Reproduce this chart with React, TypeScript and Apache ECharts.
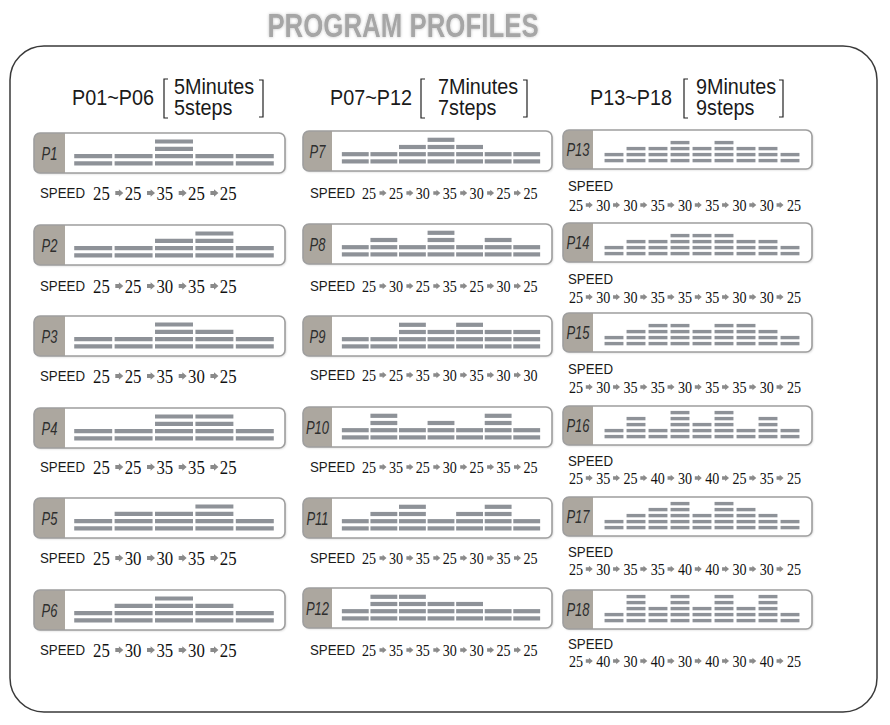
import React, { useEffect, useRef } from 'react';
import * as echarts from 'echarts';

// ---------- data ----------
const titleText = 'PROGRAM PROFILES';
const groupRanges = ['P01~P06', 'P07~P12', 'P13~P18'];
const groupMinutes = ['5Minutes', '7Minutes', '9Minutes'];
const groupSteps = ['5steps', '7steps', '9steps'];
const speedLabel = 'SPEED';
const programNames = [
  'P1', 'P2', 'P3', 'P4', 'P5', 'P6',
  'P7', 'P8', 'P9', 'P10', 'P11', 'P12',
  'P13', 'P14', 'P15', 'P16', 'P17', 'P18',
];

const p1 = [25, 25, 35, 25, 25];
const p2 = [25, 25, 30, 35, 25];
const p3 = [25, 25, 35, 30, 25];
const p4 = [25, 25, 35, 35, 25];
const p5 = [25, 30, 30, 35, 25];
const p6 = [25, 30, 35, 30, 25];
const p7 = [25, 25, 30, 35, 30, 25, 25];
const p8 = [25, 30, 25, 35, 25, 30, 25];
const p9 = [25, 25, 35, 30, 35, 30, 30];
const p10 = [25, 35, 25, 30, 25, 35, 25];
const p11 = [25, 30, 35, 25, 30, 35, 25];
const p12 = [25, 35, 35, 30, 30, 25, 25];
const p13 = [25, 30, 30, 35, 30, 35, 30, 30, 25];
const p14 = [25, 30, 30, 35, 35, 35, 30, 30, 25];
const p15 = [25, 30, 35, 35, 30, 35, 35, 30, 25];
const p16 = [25, 35, 25, 40, 30, 40, 25, 35, 25];
const p17 = [25, 30, 35, 35, 40, 40, 30, 30, 25];
const p18 = [25, 40, 30, 40, 30, 40, 30, 40, 25];
// the drawn profile of P17 differs from its printed speeds
const p17Bars = [25, 30, 35, 40, 30, 40, 35, 30, 25];

const printedSpeeds = [p1, p2, p3, p4, p5, p6, p7, p8, p9, p10, p11, p12, p13, p14, p15, p16, p17, p18];
const barSpeeds = [p1, p2, p3, p4, p5, p6, p7, p8, p9, p10, p11, p12, p13, p14, p15, p16, p17Bars, p18];

// ---------- layout ----------
const COLS = [
  {
    px: 34, pw: 251, lw: 31, ph: 40, tops: [133, 225, 316, 408, 498, 590],
    barL: 73, barW: 202, barBottom: 32.5, pitch: 7.3, segH: 4.2, wFrac: 0.94,
    speedX: 40, speedY: [193, 286, 376, 467, 558, 650], valY: null as null | number[],
    numX: 93, numPitch: 31.7, numFont: 19.5, numScale: 0.86, arrowOff: 22.3, arrowW: 8, arrowH: 7.5,
    hdrRangeX: 72, hdrBrL: 164, hdrTextX: 174, hdrBrR: 263,
  },
  {
    px: 303, pw: 249, lw: 29, ph: 40, tops: [131, 224, 316, 407, 498, 588],
    barL: 341, barW: 200, barBottom: 32.5, pitch: 7.2, segH: 4.2, wFrac: 0.94,
    speedX: 310, speedY: [193, 286, 375, 467, 558, 650], valY: null as null | number[],
    numX: 362, numPitch: 26.9, numFont: 16, numScale: 0.88, arrowOff: 17.5, arrowW: 7, arrowH: 6.5,
    hdrRangeX: 330, hdrBrL: 421, hdrTextX: 438, hdrBrR: 527,
  },
  {
    px: 563, pw: 249, lw: 30, ph: 39, tops: [130, 223, 313, 406, 497, 590],
    barL: 603, barW: 198, barBottom: 32.3, pitch: 6.0, segH: 3.4, wFrac: 0.86,
    speedX: 568, speedY: [186, 279, 369, 461, 552, 644], valY: [205, 297, 387, 478, 569, 661] as null | number[],
    numX: 569, numPitch: 27.25, numFont: 16, numScale: 0.88, arrowOff: 16.8, arrowW: 7, arrowH: 6.5,
    hdrRangeX: 590, hdrBrL: 684, hdrTextX: 696, hdrBrR: 783,
  },
];

const SEG_COLOR = '#8e9298';
const MAX_LV = 5;
const SANS = '"Liberation Sans", Arial, sans-serif';
const SERIF = '"Liberation Serif", "Times New Roman", serif';

function txt(x: number, y: number, text: string, o: any = {}) {
  const align = o.align || 'left';
  return {
    type: 'text', x, y, z: o.z ?? 5, scaleX: o.scaleX ?? 1,
    style: {
      x: 0, y: 0, text,
      fontFamily: o.fontFamily || SANS, fontSize: o.fontSize || 14,
      fontWeight: o.fontWeight || 'normal', fontStyle: o.fontStyle || 'normal',
      fill: o.fill || '#1a1a1a',
      align, textAlign: align, verticalAlign: 'middle', textVerticalAlign: 'middle',
      textShadowColor: o.shadowColor, textShadowBlur: o.shadowBlur || 0,
    },
  };
}

function buildOption() {
  const elements: any[] = [];
  const grids: any[] = [];
  const xAxes: any[] = [];
  const yAxes: any[] = [];
  const series: any[] = [];

  // title & frame
  elements.push(txt(403, 25, titleText, {
    align: 'center', fontSize: 34, fontWeight: 'bold', fill: '#a6a6a6', scaleX: 0.76,
    shadowColor: 'rgba(0,0,0,0.25)', shadowBlur: 3,
  }));
  elements.push({
    type: 'rect', z: 0,
    shape: { x: 10, y: 46, width: 867, height: 666, r: 34 },
    style: { fill: 'none', stroke: '#3a3a3a', lineWidth: 1.5 },
  });

  // column headers
  COLS.forEach((L, c) => {
    elements.push(txt(L.hdrRangeX, 97, groupRanges[c], { fontSize: 22, scaleX: 0.9 }));
    elements.push(txt(L.hdrTextX, 86, groupMinutes[c], { fontSize: 22, scaleX: 0.9 }));
    elements.push(txt(L.hdrTextX, 107, groupSteps[c], { fontSize: 22, scaleX: 0.9 }));
    elements.push({
      type: 'polyline', z: 5,
      shape: { points: [[L.hdrBrL + 4, 79], [L.hdrBrL, 79], [L.hdrBrL, 118], [L.hdrBrL + 4, 118]] },
      style: { fill: 'none', stroke: '#222', lineWidth: 1.2 },
    });
    elements.push({
      type: 'polyline', z: 5,
      shape: { points: [[L.hdrBrR - 4, 80], [L.hdrBrR, 80], [L.hdrBrR, 117], [L.hdrBrR - 4, 117]] },
      style: { fill: 'none', stroke: '#222', lineWidth: 1.2 },
    });
  });

  programNames.forEach((name, idx) => {
    const c = Math.floor(idx / 6);
    const r = idx % 6;
    const L = COLS[c];
    const top = L.tops[r];

    // panel
    elements.push({
      type: 'rect', z: 1,
      shape: { x: L.px, y: top, width: L.pw, height: L.ph, r: 6 },
      style: { fill: '#ffffff', shadowColor: 'rgba(0,0,0,0.18)', shadowBlur: 2, shadowOffsetX: 1, shadowOffsetY: 1 },
    });
    elements.push({
      type: 'rect', z: 2,
      shape: { x: L.px, y: top, width: L.lw, height: L.ph, r: [6, 0, 0, 6] },
      style: { fill: '#aca79f' },
    });
    elements.push({
      type: 'rect', z: 3,
      shape: { x: L.px, y: top, width: L.pw, height: L.ph, r: 6 },
      style: { fill: 'none', stroke: '#9e9e9e', lineWidth: 1.6 },
    });
    elements.push(txt(L.px + L.lw / 2, top + L.ph / 2 + 0.5, name, {
      align: 'center', fontSize: 18, fontStyle: 'italic', fill: '#2e2e2e', scaleX: 0.72,
    }));

    // speed text
    const speeds = printedSpeeds[idx];
    elements.push(txt(L.speedX, L.speedY[r], speedLabel, { fontSize: 14, fill: '#1a1a1a', scaleX: 0.95 }));
    const vy = L.valY ? L.valY[r] : L.speedY[r];
    speeds.forEach((s, i) => {
      const x = L.numX + i * L.numPitch;
      elements.push(txt(x, vy + 0.5, String(s), {
        fontFamily: SERIF, fontSize: L.numFont, scaleX: L.numScale, fill: '#111',
      }));
      if (i < speeds.length - 1) {
        const ax = x + L.arrowOff;
        const w = L.arrowW;
        const h = L.arrowH / 2;
        const sh = h * 0.55;
        const hx = ax + w * 0.45;
        elements.push({
          type: 'polygon', z: 5,
          shape: {
            points: [
              [ax, vy - sh], [hx, vy - sh], [hx, vy - h], [ax + w, vy],
              [hx, vy + h], [hx, vy + sh], [ax, vy + sh],
            ],
          },
          style: { fill: '#8a8a8a' },
        });
      }
    });

    // bars through a grid + custom series
    const bars = barSpeeds[idx];
    const gh = MAX_LV * L.pitch;
    grids.push({
      left: L.barL, width: L.barW,
      top: top + L.barBottom - gh, height: gh,
      containLabel: false,
    });
    xAxes.push({
      type: 'category', gridIndex: idx, show: false,
      data: bars.map((_, i) => String(i + 1)),
    });
    yAxes.push({ type: 'value', gridIndex: idx, show: false, min: 0, max: MAX_LV });
    const segFrac = L.segH / L.pitch;
    const wFrac = L.wFrac;
    series.push({
      type: 'custom', name: name, xAxisIndex: idx, yAxisIndex: idx, z: 10,
      data: bars.map((s, i) => [i, (s - 15) / 5]),
      renderItem: (params: any, api: any) => {
        const i = api.value(0);
        const n = api.value(1);
        const cx = api.coord([i, 0])[0];
        const bw = api.size([1, 0])[0] * wFrac;
        const children: any[] = [];
        for (let k = 0; k < n; k++) {
          const yb = api.coord([i, k])[1];
          const yt = api.coord([i, k + segFrac])[1];
          children.push({
            type: 'rect',
            shape: { x: cx - bw / 2, y: yt, width: bw, height: yb - yt },
            style: { fill: SEG_COLOR },
          });
        }
        return { type: 'group', children };
      },
    });
  });

  return {
    animation: false,
    backgroundColor: '#ffffff',
    grid: grids,
    xAxis: xAxes,
    yAxis: yAxes,
    series,
    graphic: { elements },
  };
}

export default function App() {
  const ref = useRef<HTMLDivElement>(null);
  useEffect(() => {
    if (!ref.current) return;
    const chart = echarts.init(ref.current, null, { renderer: 'svg' });
    chart.setOption(buildOption() as any);
    return () => chart.dispose();
  }, []);
  return (
    <div
      ref={ref}
      style={{ position: 'fixed', left: 0, top: 0, width: 890, height: 725 }}
    />
  );
}
